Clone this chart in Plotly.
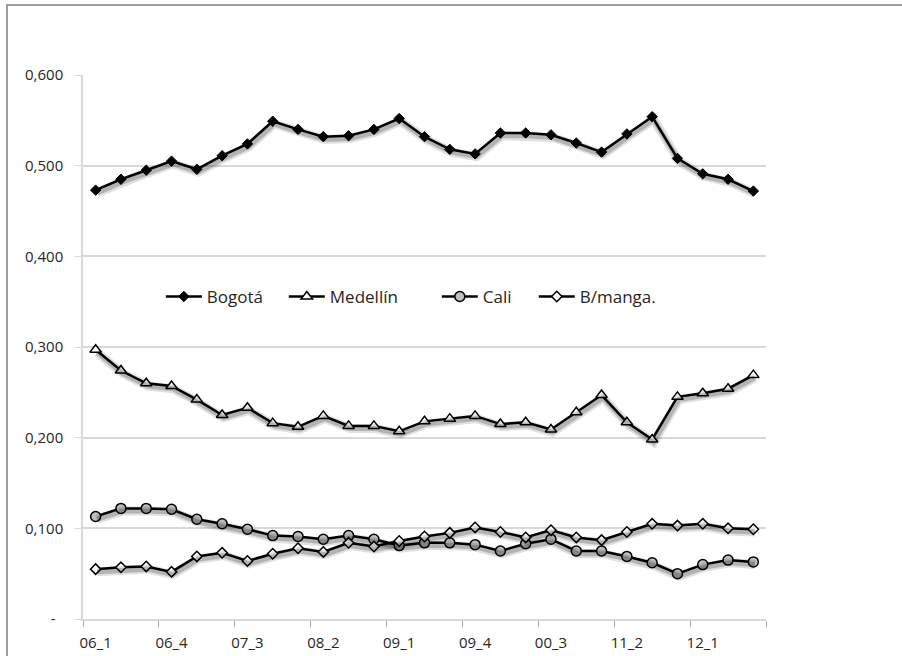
import plotly.graph_objects as go

quarters = ["06_1", "06_2", "06_3", "06_4", "07_1", "07_2", "07_3", "07_4", "08_1",
            "08_2", "08_3", "08_4", "09_1", "09_2", "09_3", "09_4", "10_1", "10_2",
            "00_3", "10_4", "11_1", "11_2", "11_3", "11_4", "12_1", "12_2", "12_3"]
tick_labels = ["06_1", "06_4", "07_3", "08_2", "09_1", "09_4", "00_3", "11_2", "12_1"]

bogota = [0.473, 0.485, 0.495, 0.505, 0.496, 0.511, 0.524, 0.549, 0.540, 0.532, 0.533,
          0.540, 0.552, 0.532, 0.518, 0.513, 0.536, 0.536, 0.534, 0.525, 0.515, 0.535,
          0.554, 0.508, 0.491, 0.485, 0.472]
medellin = [0.297, 0.274, 0.260, 0.257, 0.242, 0.225, 0.233, 0.216, 0.212, 0.224, 0.213,
            0.213, 0.207, 0.218, 0.221, 0.224, 0.215, 0.217, 0.209, 0.228, 0.247, 0.217,
            0.198, 0.245, 0.249, 0.254, 0.269]
cali = [0.113, 0.122, 0.122, 0.121, 0.110, 0.105, 0.099, 0.092, 0.091, 0.088, 0.092,
        0.088, 0.081, 0.084, 0.084, 0.082, 0.075, 0.083, 0.088, 0.075, 0.075, 0.069,
        0.062, 0.050, 0.060, 0.065, 0.063]
bmanga = [0.055, 0.057, 0.058, 0.052, 0.069, 0.073, 0.064, 0.072, 0.078, 0.074, 0.084,
          0.080, 0.086, 0.091, 0.095, 0.101, 0.096, 0.090, 0.098, 0.090, 0.087, 0.096,
          0.105, 0.103, 0.105, 0.100, 0.099]

y_ticks = [0, 0.1, 0.2, 0.3, 0.4, 0.5, 0.6]
y_tick_text = ["-\u00a0\u00a0", "0,100", "0,200", "0,300", "0,400", "0,500", "0,600"]

x = list(range(len(quarters)))
label_pos = [quarters.index(t) for t in tick_labels]

series = [
    ("Bogotá", bogota, dict(symbol="diamond", size=8, color="black", line=dict(color="black", width=1))),
    ("Medellín", medellin, dict(symbol="triangle-up", size=10, color="white", line=dict(color="black", width=1.5))),
    ("Cali", cali, dict(symbol="circle", size=10, color="#bfbfbf", line=dict(color="black", width=1.5))),
    ("B/manga.", bmanga, dict(symbol="diamond", size=8, color="white", line=dict(color="black", width=1.5))),
]
legend_ids = ["legend", "legend2", "legend3", "legend4"]
legend_x = [0.114, 0.294, 0.518, 0.660]

fig = go.Figure()

# soft shadows (drawn on an overlay axis shifted by a couple of pixels)
for name, vals, mk in series:
    fig.add_trace(go.Scatter(x=x, y=vals, mode="lines", xaxis="x2", yaxis="y2",
                             line=dict(color="rgba(0,0,0,0.12)", width=9),
                             showlegend=False, hoverinfo="skip"))
    fig.add_trace(go.Scatter(x=x, y=vals, mode="lines", xaxis="x2", yaxis="y2",
                             line=dict(color="rgba(0,0,0,0.2)", width=5),
                             showlegend=False, hoverinfo="skip"))

for (name, vals, mk), lg in zip(series, legend_ids):
    fig.add_trace(go.Scatter(x=x, y=vals, mode="lines+markers", name=name, legend=lg,
                             line=dict(color="black", width=2.5), marker=mk))

font_family = "Open Sans, Liberation Sans, sans-serif"

legend_common = dict(orientation="h", y=0.592, xanchor="left", yanchor="middle",
                     font=dict(size=17, color="#262626"), bgcolor="rgba(0,0,0,0)",
                     itemwidth=36)

layout_legends = {}
for lg, lx in zip(legend_ids, legend_x):
    layout_legends[lg] = dict(x=lx, **legend_common)

W, H = 902, 656
ML, MR, MT, MB = 83, 136, 75, 37
PW, PH = W - ML - MR, H - MT - MB

fx0 = (7 - ML) / PW
fx1 = (W + 10 - ML) / PW
fy0 = -(MB + 10) / PH
fy1 = (PH + MT - 5) / PH
frame_path = f"M {fx0},{fy0} L {fx0},{fy1} L {fx1},{fy1}"

fig.update_layout(
    width=W, height=H,
    margin=dict(l=ML, r=MR, t=MT, b=MB, autoexpand=False),
    paper_bgcolor="white", plot_bgcolor="white",
    font=dict(family=font_family, color="#262626"),
    showlegend=True,
    xaxis=dict(range=[-0.5, len(quarters) - 0.5], tickmode="array", tickvals=label_pos,
               ticktext=tick_labels, ticks="", showgrid=False, zeroline=False,
               showline=True, linecolor="#d9d9d9", linewidth=1.5, automargin=False,
               tickfont=dict(size=15, color="#262626"), ticklabelstandoff=9,
               minor=dict(tickmode="array",
                          tickvals=[i - 0.5 for i in range(0, len(quarters) + 1, 3)],
                          ticks="outside", ticklen=6, tickcolor="#a6a6a6", tickwidth=1,
                          showgrid=False)),
    yaxis=dict(range=[0, 0.6], tickmode="array", tickvals=y_ticks, ticktext=y_tick_text,
               showgrid=True, gridcolor="#d9d9d9", gridwidth=1.5, zeroline=False,
               showline=True, linecolor="#d9d9d9", linewidth=1.5, automargin=False,
               ticks="outside", ticklen=6, tickcolor="#d9d9d9",
               tickfont=dict(size=15, color="#262626"), ticklabelstandoff=9),
    xaxis2=dict(overlaying="x", range=[-0.5 - 0.06, len(quarters) - 0.5 - 0.06],
                visible=False),
    yaxis2=dict(overlaying="y", range=[0 + 0.003, 0.6 + 0.003], visible=False),
    shapes=[dict(type="path", xref="paper", yref="paper", path=frame_path,
                 line=dict(color="#7f7f7f", width=1.5), layer="below")],
    **layout_legends,
)

fig.write_html("out.html", config={"displayModeBar": False},
               post_script="document.body.style.margin='0px';document.body.style.overflow='hidden';")
